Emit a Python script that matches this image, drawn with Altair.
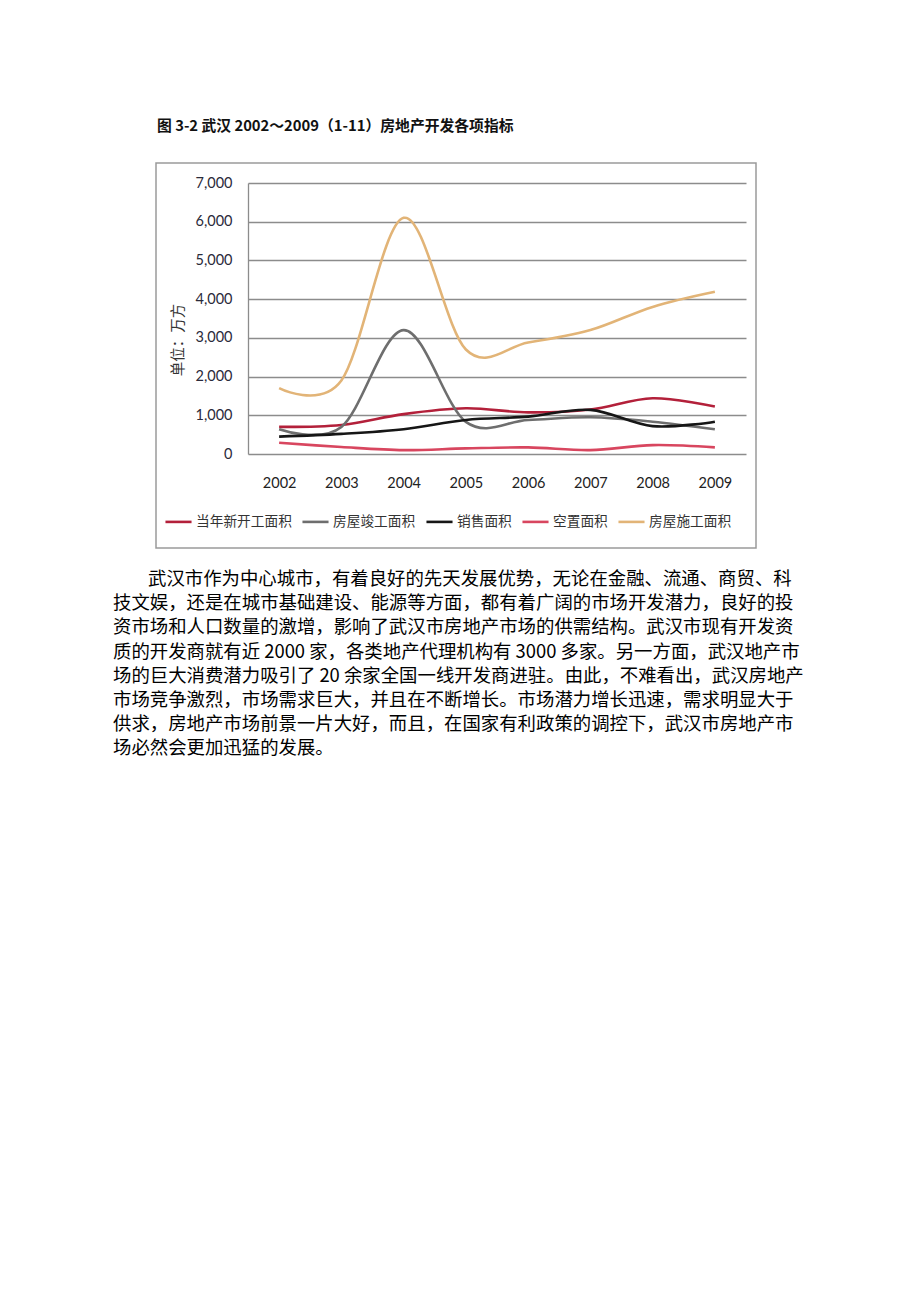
import altair as alt
import pandas as pd

years = ["2002", "2003", "2004", "2005", "2006", "2007", "2008", "2009"]
series_names = ["当年新开工面积", "房屋竣工面积", "销售面积", "空置面积", "房屋施工面积"]
new_start = [700, 750, 1030, 1180, 1075, 1150, 1440, 1225]
completed = [640, 700, 3200, 830, 880, 950, 835, 640]
sales = [450, 520, 640, 880, 965, 1140, 720, 835]
vacant = [290, 180, 100, 145, 170, 100, 230, 170]
construction = [1700, 1900, 6100, 2700, 2880, 3200, 3800, 4190]
series_colors = ["#b3203a", "#6e6e6e", "#161616", "#d8465f", "#e2b477"]
y_ticks = [0, 1000, 2000, 3000, 4000, 5000, 6000, 7000]

chart_title = "图 3-2 武汉 2002～2009（1-11）房地产开发各项指标"
y_title = "单位：万方"
para_lines = [
    "武汉市作为中心城市，有着良好的先天发展优势，无论在金融、流通、商贸、科",
    "技文娱，还是在城市基础建设、能源等方面，都有着广阔的市场开发潜力，良好的投",
    "资市场和人口数量的激增，影响了武汉市房地产市场的供需结构。武汉市现有开发资",
    "质的开发商就有近 2000 家，各类地产代理机构有 3000 多家。另一方面，武汉地产市",
    "场的巨大消费潜力吸引了 20 余家全国一线开发商进驻。由此，不难看出，武汉房地产",
    "市场竞争激烈，市场需求巨大，并且在不断增长。市场潜力增长迅速，需求明显大于",
    "供求，房地产市场前景一片大好，而且，在国家有利政策的调控下，武汉市房地产市",
    "场必然会更加迅猛的发展。",
]

rows = []
for name, vals in zip(series_names, [new_start, completed, sales, vacant, construction]):
    for yr, v in zip(years, vals):
        rows.append({"year": yr, "series": name, "value": v})
df = pd.DataFrame(rows)
one = pd.DataFrame({"a": [0]})

CJK = "Noto Sans CJK SC"
NUM = "Lato"

lines = alt.Chart(df).mark_line(interpolate="cardinal", strokeWidth=2.6).encode(
    x=alt.X("year:O", scale=alt.Scale(type="point", padding=0.5),
            axis=alt.Axis(title=None, labelAngle=0, domain=False, ticks=False, grid=False,
                          labelPadding=22, labelFont=NUM, labelFontSize=14.5, labelColor="#222")),
    y=alt.Y("value:Q", scale=alt.Scale(domain=[0, 7000]),
            axis=alt.Axis(title=None, values=y_ticks, format=",.0f", grid=True, gridColor="#8c8c8c",
                          gridWidth=1.3, domain=True, domainColor="#8c8c8c", domainWidth=1.3,
                          ticks=False, labelPadding=16, labelFont=NUM, labelFontSize=14.5,
                          labelColor="#2a2a3a")),
    color=alt.Color("series:N", sort=series_names,
                    scale=alt.Scale(domain=series_names, range=series_colors),
                    legend=alt.Legend(title=None, orient="none", legendX=-84, legendY=324,
                                      direction="horizontal", symbolType="stroke", symbolSize=680,
                                      symbolStrokeWidth=2.6, labelFont=CJK, labelFontSize=13.7,
                                      labelColor="#333", labelOffset=3, columnPadding=5)),
)

frame = alt.Chart(one).mark_rect(filled=False, stroke="#9a9a9a", strokeWidth=1.5).encode(
    x=alt.value(-92), x2=alt.value(508), y=alt.value(-20), y2=alt.value(365))

title = alt.Chart(one).mark_text(text=chart_title, font=CJK, fontSize=14.8, fontWeight="bold",
                                 align="left", baseline="middle", color="#111").encode(
    x=alt.value(-91), y=alt.value(-56))

ytitle = alt.Chart(one).mark_text(text=y_title, font=CJK, fontSize=14.5, angle=270,
                                  align="center", baseline="middle", color="#333").encode(
    x=alt.value(-69), y=alt.value(157))

para_layers = []
for i, line in enumerate(para_lines):
    xpos = -100 if i == 0 else -135
    para_layers.append(
        alt.Chart(one).mark_text(text=line, font=CJK, fontSize=18.4, align="left",
                                 baseline="middle", color="#000").encode(
            x=alt.value(xpos), y=alt.value(396 + i * 24.2)))

chart = alt.layer(frame, lines, title, ytitle, *para_layers).properties(
    width=498, height=271,
    autosize=alt.AutoSizeParams(type="none"),
    padding={"left": 248, "top": 183, "right": 174, "bottom": 848},
    background="white",
).configure_view(strokeWidth=0)

chart.save("out.html", embed_options={"renderer": "svg", "actions": False})
